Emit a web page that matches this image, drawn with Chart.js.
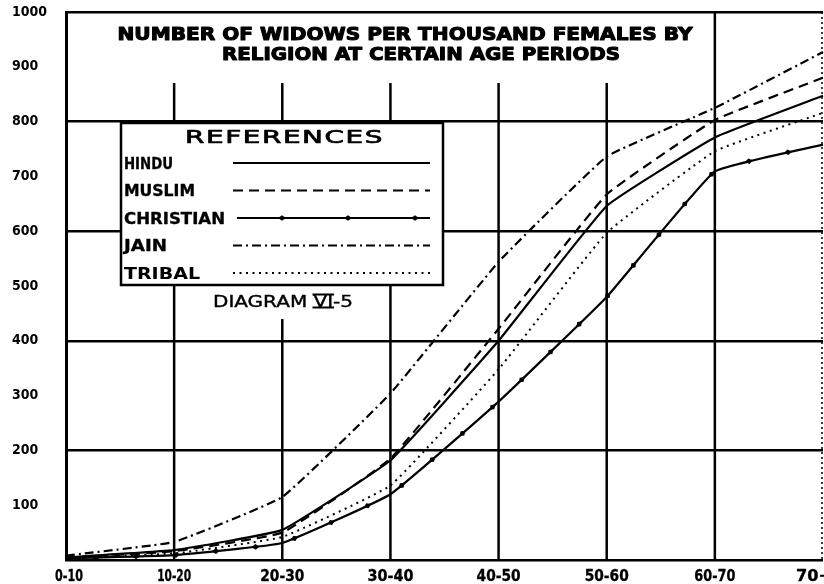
<!DOCTYPE html>
<html>
<head>
<meta charset="utf-8">
<script src="https://cdn.jsdelivr.net/npm/chart.js@4"></script>
<style>
  html, body { margin: 0; padding: 0; background: #fff; }
  canvas { display: block; }
</style>
</head>
<body>
<canvas id="widows" width="824" height="584"></canvas>
<script>
// Widows per thousand females, by religion and age period
const ageGroups = ['0-10', '10-20', '20-30', '30-40', '40-50', '50-60', '60-70', '70+'];
const hindu     = [5, 18, 55, 182, 400, 646, 771, 847];
const muslim    = [4, 16, 50, 185, 422, 667, 803, 880];
const christian = [3, 9, 31, 120, 289, 480, 709, 758];
const jain      = [8, 33, 115, 304, 544, 736, 825, 927];
const tribal    = [4, 12, 42, 136, 348, 597, 746, 816];

const seriesNames = ['HINDU', 'MUSLIM', 'CHRISTIAN', 'JAIN', 'TRIBAL'];
const titleLines = ['NUMBER OF WIDOWS PER THOUSAND FEMALES BY', 'RELIGION AT CERTAIN AGE PERIODS'];
const legendHeading = 'REFERENCES';
const diagramPrefix = 'DIAGRAM ';
const diagramNumeral = 'VI';
const diagramSuffix = '-5';

const INK = '#000';
const SANS = '"DejaVu Sans", "Liberation Sans", sans-serif';
const NARROW = '"DejaVu Sans Condensed", "Liberation Sans Narrow", "DejaVu Sans", sans-serif';

// Draw text squeezed or stretched to a given width; optional outline to thicken it
function fitText(ctx, text, x, y, width, align, thicken) {
  const w = ctx.measureText(text).width;
  const s = width / w;
  ctx.save();
  ctx.translate(x, y);
  ctx.scale(s, 1);
  ctx.textAlign = align || 'left';
  ctx.textBaseline = 'alphabetic';
  ctx.fillText(text, 0, 0);
  if (thicken) {
    ctx.lineWidth = thicken;
    ctx.lineJoin = 'round';
    ctx.strokeStyle = ctx.fillStyle;
    ctx.strokeText(text, 0, 0);
  }
  ctx.restore();
  return s;
}

// Small lozenge used as the repeating mark on the Christian line
function lozenge(ctx, x, y, ang) {
  ctx.save();
  ctx.translate(x, y);
  ctx.rotate(ang);
  ctx.beginPath();
  ctx.moveTo(-4, 0);
  ctx.lineTo(0, -2.8);
  ctx.lineTo(4, 0);
  ctx.lineTo(0, 2.8);
  ctx.closePath();
  ctx.fill();
  ctx.restore();
}

// Walk along the drawn (bezier) line and drop marks at a fixed spacing
function marksAlongLine(ctx, pts, spacing, start) {
  let next = start, acc = 0;
  for (let i = 0; i < pts.length - 1; i++) {
    const a = pts[i], b = pts[i + 1];
    const c1x = a.cp2x ?? a.x, c1y = a.cp2y ?? a.y;
    const c2x = b.cp1x ?? b.x, c2y = b.cp1y ?? b.y;
    let px = a.x, py = a.y;
    const steps = 80;
    for (let k = 1; k <= steps; k++) {
      const t = k / steps, u = 1 - t;
      const x = u*u*u*a.x + 3*u*u*t*c1x + 3*u*t*t*c2x + t*t*t*b.x;
      const y = u*u*u*a.y + 3*u*u*t*c1y + 3*u*t*t*c2y + t*t*t*b.y;
      const d = Math.hypot(x - px, y - py);
      while (d > 0 && acc + d >= next) {
        const f = (next - acc) / d;
        lozenge(ctx, px + (x - px) * f, py + (y - py) * f, Math.atan2(y - py, x - px));
        next += spacing;
      }
      acc += d; px = x; py = y;
    }
  }
}

const framePlugin = {
  id: 'frame',
  beforeDraw(chart) {
    const ctx = chart.ctx;
    ctx.save();
    ctx.fillStyle = '#fff';
    ctx.fillRect(0, 0, chart.width, chart.height);
    ctx.restore();
  },
  beforeDatasetsDraw(chart) {
    const ctx = chart.ctx, area = chart.chartArea, xs = chart.scales.x;
    // vertical rules at each age period; the inner ones stop below the heading
    const tops = [area.top, 83, 83, 83, 83, 83, area.top, area.top];
    ctx.save();
    ctx.strokeStyle = INK;
    ageGroups.forEach((g, i) => {
      if (i === 0) return;
      const last = i === ageGroups.length - 1;
      const x = xs.getPixelForValue(i) - (last ? 1 : 0);
      ctx.beginPath();
      ctx.lineWidth = last ? 1.5 : 2.5;
      ctx.setLineDash(last ? [2, 3] : []);
      ctx.moveTo(x, tops[i]);
      ctx.lineTo(x, area.bottom);
      ctx.stroke();
    });
    ctx.restore();
  },
  afterDatasetsDraw(chart) {
    const ctx = chart.ctx, xs = chart.scales.x, area = chart.chartArea;
    ctx.save();
    ctx.fillStyle = INK;
    // repeating marks on the Christian line
    const meta = chart.getDatasetMeta(2);
    if (meta.dataset && meta.dataset.updateControlPoints) {
      meta.dataset.updateControlPoints(area, 'x');
    }
    ctx.save();
    ctx.beginPath();
    ctx.rect(area.left, area.top, area.right - area.left, area.bottom - area.top);
    ctx.clip();
    marksAlongLine(ctx, meta.data, 40, 30);
    ctx.restore();

    // reference box
    const bx = 121, by = 123, bw = 322, bh = 162;
    ctx.fillStyle = '#fff';
    ctx.fillRect(bx, by, bw, bh);
    ctx.fillRect(205, by + bh + 1, 160, 33);
    ctx.strokeStyle = INK;
    ctx.lineWidth = 2.5;
    ctx.setLineDash([]);
    ctx.strokeRect(bx, by, bw, bh);

    ctx.fillStyle = INK;
    ctx.font = '18px ' + SANS;
    ctx.letterSpacing = '1px';
    fitText(ctx, legendHeading, 185, 143, 199, 'left', 0.7);
    ctx.letterSpacing = '0px';

    const rowY = [163, 190.5, 218, 245.5, 273];
    const nameW = [49, 71, 101, 43, 76];
    chart.data.datasets.forEach((ds, i) => {
      const y = rowY[i];
      ctx.fillStyle = INK;
      ctx.font = 'bold 15px ' + NARROW;
      fitText(ctx, ds.label, 124, y + 5.5, nameW[i], 'left', i === 4 ? 0 : 0.3);
      ctx.strokeStyle = INK;
      ctx.lineWidth = ds.borderWidth;
      ctx.setLineDash(ds.borderDash || []);
      ctx.lineCap = ds.borderCapStyle || 'butt';
      ctx.beginPath();
      ctx.moveTo(i === 2 ? 237 : 233, y);
      ctx.lineTo(430, y);
      ctx.stroke();
      ctx.setLineDash([]);
      ctx.lineCap = 'butt';
      if (i === 2) {
        [282, 348, 415].forEach(mx => lozenge(ctx, mx, y, 0));
      }
    });

    // diagram number, with the bars of the roman numeral
    ctx.font = '16px ' + SANS;
    const full = diagramPrefix + diagramNumeral + diagramSuffix;
    const dW = 140, dX = 283 - dW / 2, dY = 307;
    const s = fitText(ctx, full, dX, dY, dW, 'left', 0.4);
    const nx0 = dX + ctx.measureText(diagramPrefix).width * s - 1;
    const nx1 = dX + ctx.measureText(diagramPrefix + diagramNumeral).width * s + 1;
    ctx.lineWidth = 1.8;
    ctx.beginPath();
    ctx.moveTo(nx0, dY - 12.5); ctx.lineTo(nx1, dY - 12.5);
    ctx.moveTo(nx0, dY + 0.5); ctx.lineTo(nx1, dY + 0.5);
    ctx.stroke();

    // age period labels under the axis
    ctx.font = 'bold 15px ' + NARROW;
    const labW = [28, 34, 44, 46, 44, 44, 41, 36];
    ageGroups.forEach((g, i) => {
      let x = xs.getPixelForValue(i);
      if (i === 0) x += 3;
      if (i === ageGroups.length - 1) x -= 9;
      fitText(ctx, g, x, 581, labW[i], 'center', 0.3);
    });
    ctx.restore();
  },
  afterDraw(chart) {
    const ctx = chart.ctx;
    ctx.save();
    ctx.fillStyle = INK;
    ctx.font = 'bold 18px ' + SANS;
    fitText(ctx, titleLines[0], 405, 40, 575, 'center', 1.1);
    fitText(ctx, titleLines[1], 421, 60, 398, 'center', 1.1);
    ctx.restore();
  }
};

const lineStyle = (label, data, extra) => Object.assign({
  label, data,
  borderColor: INK,
  backgroundColor: INK,
  borderWidth: 2.2,
  pointRadius: 0,
  pointHoverRadius: 0,
  tension: 0.1,
  fill: false
}, extra);

new Chart(document.getElementById('widows'), {
  type: 'line',
  data: {
    labels: ageGroups,
    datasets: [
      lineStyle(seriesNames[0], hindu, {}),
      lineStyle(seriesNames[1], muslim, { borderDash: [10, 6] }),
      lineStyle(seriesNames[2], christian, {}),
      lineStyle(seriesNames[3], jain, { borderDash: [9, 4, 2, 4] }),
      lineStyle(seriesNames[4], tribal, { borderDash: [2, 4.5], borderWidth: 2 })
    ]
  },
  options: {
    responsive: false,
    animation: false,
    devicePixelRatio: 1,
    layout: { padding: { left: 12, top: 12, right: 1, bottom: 24 } },
    plugins: { legend: { display: false }, tooltip: { enabled: false }, title: { display: false } },
    scales: {
      x: { display: false },
      y: {
        min: 0,
        max: 1000,
        afterFit(scale) { scale.width = 54; },
        border: { display: true, color: INK, width: 3 },
        grid: {
          drawTicks: false,
          color: c => (c.tick && c.tick.value % 200 === 0) ? INK : 'rgba(0,0,0,0)',
          lineWidth: 2.5
        },
        ticks: {
          stepSize: 100,
          crossAlign: 'far',
          color: INK,
          font: { family: NARROW, weight: 'bold', size: 14 },
          callback: v => v === 0 ? '' : String(v)
        }
      }
    }
  },
  plugins: [framePlugin]
});
</script>
</body>
</html>
